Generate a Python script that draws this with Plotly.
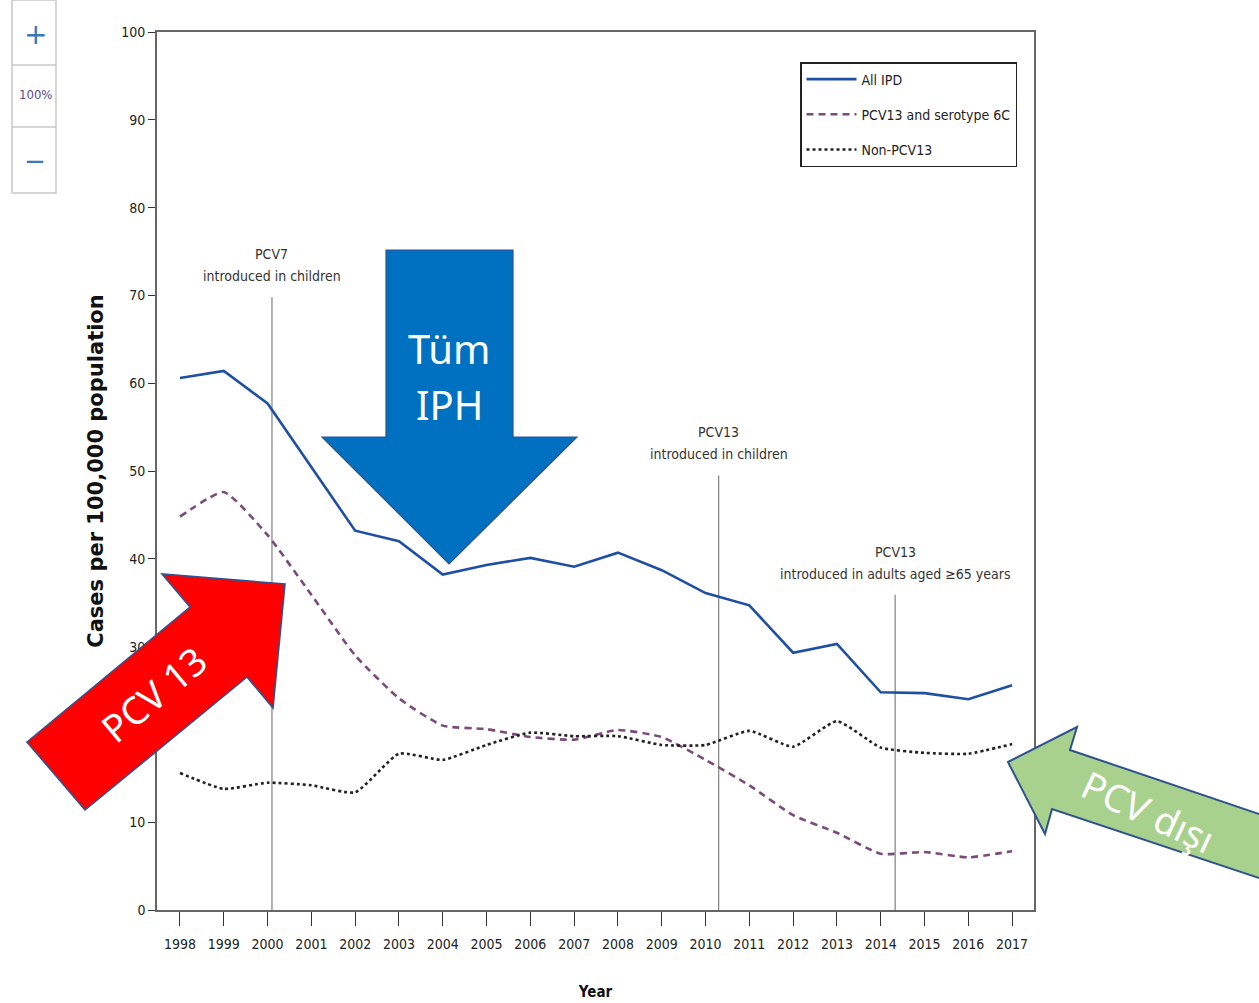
import plotly.graph_objects as go

years = list(range(1998, 2018))
all_ipd = [60.6, 61.4, 57.7, 50.4, 43.2, 42.0, 38.2, 39.3, 40.1, 39.1,
           40.7, 38.7, 36.1, 34.7, 29.3, 30.3, 24.8, 24.7, 24.0, 25.6]
pcv13_6c = [44.8, 47.6, 42.7, 35.9, 29.0, 24.1, 21.0, 20.6, 19.7, 19.4,
            20.5, 19.7, 17.1, 14.2, 10.8, 8.8, 6.4, 6.6, 6.0, 6.7]
non_pcv13 = [15.6, 13.8, 14.5, 14.2, 13.4, 17.8, 17.1, 18.8, 20.2, 19.8,
             19.8, 18.8, 18.8, 20.4, 18.6, 21.5, 18.5, 17.9, 17.8, 18.9]

series_names = ["All IPD", "PCV13 and serotype 6C", "Non-PCV13"]

event_years = [2000.1, 2010.3, 2014.33]
event_tops = [69.8, 49.5, 35.9]
event_titles = ["PCV7", "PCV13", "PCV13"]
event_subtitles = ["introduced in children", "introduced in children",
                   "introduced in adults aged \u226565 years"]

y_ticks = list(range(0, 101, 10))

NARROW = "DejaVu Sans Condensed, DejaVu Sans, sans-serif"
CAL = "Noto Sans, Open Sans, sans-serif"

W, H = 1259, 1003
L, R, T, B = 157, 1034, 32, 910


def px(x):
    return (x - L) / (R - L)


def py(y):
    return (B - y) / (B - T)


def path(pts):
    return "M " + " L ".join(f"{px(x):.5f},{py(y):.5f}" for x, y in pts) + " Z"


fig = go.Figure()
fig.add_trace(go.Scatter(x=years, y=all_ipd, name=series_names[0], mode="lines",
                         legendgroup="a",
                         line=dict(color="#1f4fa3", width=2.6)))
fig.add_trace(go.Scatter(x=years, y=pcv13_6c, name=series_names[1], mode="lines",
                         legendgroup="b",
                         line=dict(color="#7a4a7c", width=2.6, dash="7px,5px",
                                   shape="spline", smoothing=0.5)))
fig.add_trace(go.Scatter(x=years, y=non_pcv13, name=series_names[2], mode="lines",
                         legendgroup="c",
                         line=dict(color="#222222", width=2.6, dash="dot",
                                   shape="spline", smoothing=0.5)))

shapes = []
for ex, et in zip(event_years, event_tops):
    shapes.append(dict(type="line", xref="x", yref="y", x0=ex, x1=ex, y0=0, y1=et,
                       line=dict(color="#8a8a8a", width=1.3), layer="below"))

annotations = []
for ex, et, t1, t2 in zip(event_years, event_tops, event_titles, event_subtitles):
    annotations.append(dict(x=ex, y=et, xref="x", yref="y", text=t2, showarrow=False,
                            xanchor="center", yanchor="middle", yshift=21,
                            font=dict(family=NARROW, size=14, color="#333333")))
    annotations.append(dict(x=ex, y=et, xref="x", yref="y", text=t1, showarrow=False,
                            xanchor="center", yanchor="middle", yshift=43,
                            font=dict(family=NARROW, size=14, color="#333333")))

# blue down arrow
blue_pts = [(386, 250), (513, 250), (513, 437), (577, 437), (449, 564), (322, 437), (386, 437)]
shapes.append(dict(type="path", xref="paper", yref="paper", path=path(blue_pts),
                   fillcolor="#0070C0", line=dict(color="#2F528F", width=1.2)))
# red arrow
red_pts = [(27, 742), (190, 607), (162, 574), (285, 584), (273, 708), (247, 677), (85, 810)]
shapes.append(dict(type="path", xref="paper", yref="paper", path=path(red_pts),
                   fillcolor="#FF0000", line=dict(color="#2F528F", width=1.6)))
# green arrow
green_pts = [(1008, 762), (1077, 727), (1070, 750), (1262, 815), (1262, 879), (1052, 809), (1045, 834)]
shapes.append(dict(type="path", xref="paper", yref="paper", path=path(green_pts),
                   fillcolor="#A9D18E", line=dict(color="#2F528F", width=2)))


def ptext(x, y, text, size, color, family=CAL, angle=0):
    return dict(x=px(x), y=py(y), xref="paper", yref="paper", text=text, showarrow=False,
                xanchor="center", yanchor="middle", textangle=angle,
                font=dict(family=family, size=size, color=color))


annotations += [
    ptext(449, 348, "Tüm", 40, "white"),
    ptext(449, 405, "IPH", 40, "white"),
    ptext(153, 694, "PCV 13", 38, "white", angle=-40),
    ptext(1148, 811, "PCV dışı", 38, "white", angle=25),
]

# zoom control widget (top-left)
shapes.append(dict(type="rect", xref="paper", yref="paper", x0=px(12), x1=px(56),
                   y0=py(193), y1=py(0), line=dict(color="#c8c8c8", width=1.5),
                   fillcolor="white"))
for yy in (65, 127):
    shapes.append(dict(type="line", xref="paper", yref="paper", x0=px(12), x1=px(56),
                       y0=py(yy), y1=py(yy), line=dict(color="#c8c8c8", width=1.5)))
annotations += [
    ptext(35, 34, "+", 28, "#3a78b8", family="DejaVu Sans"),
    ptext(35, 95, "100%", 13, "#5a4a8a", family=NARROW),
    ptext(35, 161, "\u2212", 26, "#3a78b8", family="DejaVu Sans"),
]

fig.update_layout(
    width=W, height=H,
    margin=dict(l=L, r=W - R, t=T, b=H - B, pad=0, autoexpand=False),
    paper_bgcolor="white", plot_bgcolor="white",
    font=dict(family=NARROW, size=14, color="#222222"),
    shapes=shapes, annotations=annotations,
    showlegend=True,
    legend=dict(x=px(800), y=py(62), xanchor="left", yanchor="top",
                bordercolor="#222222", borderwidth=1.5, bgcolor="white",
                font=dict(family=NARROW, size=14, color="#222222"),
                tracegroupgap=14, itemwidth=50),
    xaxis=dict(range=[1997.475, 2017.5], tickvals=years, ticktext=[str(y) for y in years],
               ticks="outside", ticklen=14, tickcolor="#333333", tickwidth=1.3,
               ticklabelstandoff=6, automargin=False,
               showline=True, linecolor="#666666", linewidth=1.6, mirror=True,
               showgrid=False, zeroline=False,
               tickfont=dict(family=NARROW, size=14, color="#222222"),
               title=dict(text="<b>Year</b>", standoff=36,
                          font=dict(family=NARROW, size=15, color="#111111"))),
    yaxis=dict(range=[0, 100], tickvals=y_ticks,
               ticks="outside", ticklen=7, tickcolor="#333333", tickwidth=1.3,
               automargin=False,
               showline=True, linecolor="#666666", linewidth=1.6, mirror=True,
               showgrid=False, zeroline=False,
               tickfont=dict(family=NARROW, size=14, color="#222222"),
               title=dict(text="<b>Cases per 100,000 population</b>", standoff=12,
                          font=dict(family="DejaVu Sans", size=21, color="#111111"))),
)

fig.write_html("out.html", config={"displayModeBar": False},
               post_script="document.body.style.margin='0px';")
